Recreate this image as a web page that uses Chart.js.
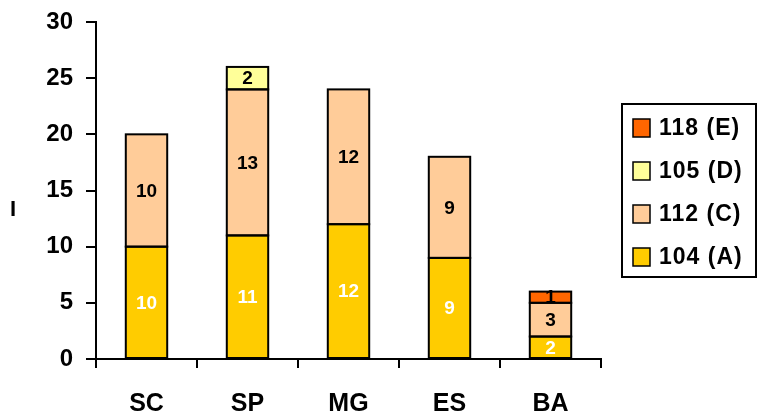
<!DOCTYPE html>
<html>
<head>
<meta charset="utf-8">
<script src="https://cdn.jsdelivr.net/npm/chart.js@4/dist/chart.umd.min.js"></script>
<style>
  html, body { margin: 0; padding: 0; background: #fff; }
  #wrap { width: 757px; height: 418px; position: relative; }
</style>
</head>
<body>
<div id="wrap"><canvas id="chart"></canvas></div>
<script>
const categories = ['SC', 'SP', 'MG', 'ES', 'BA']
const seriesA = [10, 11, 12, 9, 2]
const seriesC = [10, 13, 12, 9, 3]
const seriesD = [null, 2, null, null, null]
const seriesE = [null, null, null, null, 1]
const seriesNames = ['104 (A)', '112 (C)', '105 (D)', '118 (E)']
const yTicks = [0, 5, 10, 15, 20, 25, 30]
const yTitle = 'I'

const font = 'Arial, "Liberation Sans", sans-serif'

// outlines + labels of the bar segments, and the y title
const segmentLabels = {
    id: 'segmentLabels',
    afterDatasetsDraw(chart) {
        const ctx = chart.ctx
        ctx.save()
        ctx.lineWidth = 2
        ctx.strokeStyle = '#000'
        chart.data.datasets.forEach((ds, i) => {
            chart.getDatasetMeta(i).data.forEach((bar, j) => {
                if (ds.data[j] == null) return
                const p = bar.getProps(['x', 'y', 'base', 'width'], true)
                ctx.strokeRect(p.x - p.width / 2, p.y, p.width, p.base - p.y)
            })
        })
        ctx.font = 'bold 19px ' + font
        ctx.textAlign = 'center'
        ctx.textBaseline = 'middle'
        chart.data.datasets.forEach((ds, i) => {
            chart.getDatasetMeta(i).data.forEach((bar, j) => {
                const v = ds.data[j]
                if (v == null) return
                ctx.fillStyle = i === 0 ? '#fff' : '#000'
                ctx.fillText(v, bar.x, (bar.y + bar.base) / 2 + 1)
            })
        })
        ctx.fillStyle = '#000'
        ctx.font = 'bold 22px ' + font
        ctx.fillText(yTitle, 13, 210)
        ctx.restore()
    }
}

// boxed legend on the right, top item is the last series
const boxLegend = {
    id: 'boxLegend',
    afterDraw(chart) {
        const ctx = chart.ctx
        ctx.save()
        ctx.lineWidth = 2
        ctx.strokeStyle = '#000'
        ctx.strokeRect(622, 104, 134, 173)
        ctx.font = 'bold 23px ' + font
        ctx.letterSpacing = '1px'
        ctx.textBaseline = 'middle'
        const ds = chart.data.datasets
        for (let k = 0; k < ds.length; k++) {
            const d = ds[ds.length - 1 - k]
            const y = 128 + k * 43
            ctx.fillStyle = d.backgroundColor
            ctx.fillRect(633, y - 9, 17, 18)
            ctx.lineWidth = 1.5
            ctx.strokeRect(633, y - 9, 17, 18)
            ctx.fillStyle = '#000'
            ctx.fillText(d.label, 659, y + 1)
        }
        ctx.restore()
    }
}

new Chart(document.getElementById('chart'), {
    type: 'bar',
    data: {
        labels: categories,
        datasets: [
            { label: seriesNames[0], data: seriesA, backgroundColor: '#FFCC00' },
            { label: seriesNames[1], data: seriesC, backgroundColor: '#FFCC99' },
            { label: seriesNames[2], data: seriesD, backgroundColor: '#FFFF99' },
            { label: seriesNames[3], data: seriesE, backgroundColor: '#FF6600' },
        ].map(d => Object.assign(d, {
            borderWidth: 0,
            barPercentage: 0.41,
            categoryPercentage: 1
        }))
    },
    options: {
        responsive: true,
        maintainAspectRatio: false,
        animation: false,
        layout: { padding: { top: 22, right: 156, left: 0, bottom: 0 } },
        plugins: {
            legend: { display: false },
            tooltip: { enabled: false }
        },
        scales: {
            x: {
                stacked: true,
                afterFit: axis => { axis.height = 59 },
                grid: { display: true, drawOnChartArea: false, drawTicks: true, tickLength: 9, color: '#000', lineWidth: 2, offset: true },
                border: { display: true, color: '#000', width: 2 },
                ticks: { color: '#000', font: { family: font, size: 25, weight: 'bold' }, padding: 21 }
            },
            y: {
                stacked: true,
                min: 0,
                max: 30,
                afterFit: axis => {
                    axis.width = 96
                    axis.paddingTop = 0
                    axis.paddingBottom = 0
                },
                afterBuildTicks: axis => { axis.ticks = yTicks.map(v => ({ value: v })) },
                grid: { display: true, drawOnChartArea: false, drawTicks: true, tickLength: 10, color: '#000', lineWidth: 2 },
                border: { display: true, color: '#000', width: 2 },
                ticks: { color: '#000', font: { family: font, size: 24, weight: 'bold' }, padding: 13 }
            }
        }
    },
    plugins: [segmentLabels, boxLegend]
})
</script>
</body>
</html>
